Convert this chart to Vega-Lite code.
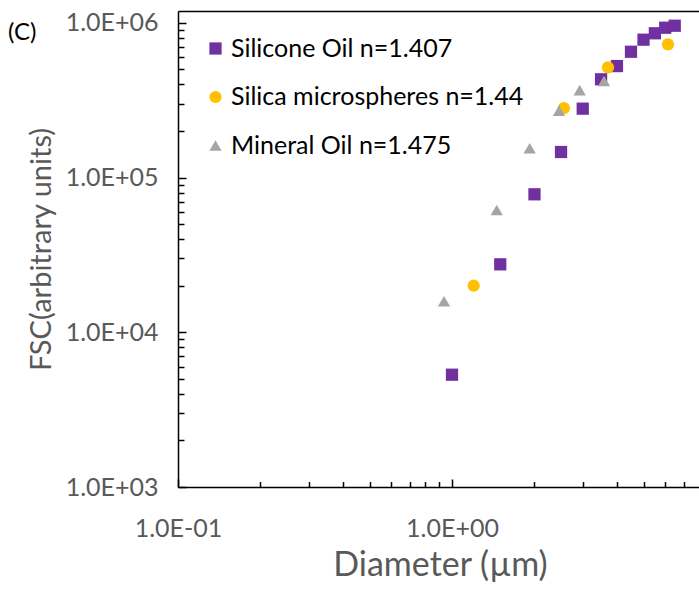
{
  "$schema": "https://vega.github.io/schema/vega-lite/v6.json",
  "width": 521,
  "height": 476,
  "autosize": {"type": "none"},
  "padding": {"left": 178, "top": 11, "right": 0, "bottom": 104},
  "background": "white",
  "title": {"text": "(C)", "anchor": "start", "orient": "top", "frame": "group", "dx": -170, "dy": 46, "offset": 0, "baseline": "middle", "fontSize": 24, "fontWeight": "normal", "color": "#000000", "font": "Lato"},
  "config": {
    "view": {"stroke": null},
    "font": "Lato",
    "axis": {
      "grid": false,
      "domainColor": "#000000",
      "domainWidth": 1.5,
      "tickColor": "#000000",
      "tickWidth": 1.5,
      "labelColor": "#595959",
      "labelFont": "Lato",
      "labelFontSize": 25,
      "titleColor": "#595959",
      "titleFont": "Lato",
      "titleFontWeight": "normal"
    },
    "legend": {
      "orient": "none",
      "legendX": 25,
      "legendY": 25,
      "padding": 0,
      "labelFont": "Lato",
      "labelFontSize": 25,
      "labelColor": "#000000",
      "labelLimit": 0,
      "symbolSize": 150,
      "symbolStrokeWidth": 0,
      "rowPadding": 22.5,
      "labelOffset": 3
    }
  },
  "data": {
    "values": [
      {"series": "Silicone Oil n=1.407", "d": 1.0, "fsc": 5320},
      {"series": "Silicone Oil n=1.407", "d": 1.5, "fsc": 27500},
      {"series": "Silicone Oil n=1.407", "d": 2.0, "fsc": 78000},
      {"series": "Silicone Oil n=1.407", "d": 2.5, "fsc": 146400},
      {"series": "Silicone Oil n=1.407", "d": 3.0, "fsc": 279000},
      {"series": "Silicone Oil n=1.407", "d": 3.5, "fsc": 432000},
      {"series": "Silicone Oil n=1.407", "d": 4.0, "fsc": 526000},
      {"series": "Silicone Oil n=1.407", "d": 4.5, "fsc": 651000},
      {"series": "Silicone Oil n=1.407", "d": 5.0, "fsc": 779000},
      {"series": "Silicone Oil n=1.407", "d": 5.5, "fsc": 857000},
      {"series": "Silicone Oil n=1.407", "d": 6.0, "fsc": 931000},
      {"series": "Silicone Oil n=1.407", "d": 6.5, "fsc": 959000},
      {"series": "Silica microspheres n=1.44", "d": 1.2, "fsc": 20000},
      {"series": "Silica microspheres n=1.44", "d": 2.56, "fsc": 281000},
      {"series": "Silica microspheres n=1.44", "d": 3.71, "fsc": 516000},
      {"series": "Silica microspheres n=1.44", "d": 6.14, "fsc": 727000},
      {"series": "Mineral Oil n=1.475", "d": 0.935, "fsc": 15860},
      {"series": "Mineral Oil n=1.475", "d": 1.456, "fsc": 61700},
      {"series": "Mineral Oil n=1.475", "d": 1.921, "fsc": 154700},
      {"series": "Mineral Oil n=1.475", "d": 2.458, "fsc": 271000},
      {"series": "Mineral Oil n=1.475", "d": 2.924, "fsc": 368000},
      {"series": "Mineral Oil n=1.475", "d": 3.587, "fsc": 421000}
    ]
  },
  "layer": [
    {
      "mark": {"type": "point", "filled": true, "size": 150, "opacity": 1, "strokeWidth": 0},
      "encoding": {
        "x": {
          "field": "d", "type": "quantitative",
          "scale": {"type": "log", "domain": [0.1, 7.97], "nice": false, "zero": false},
          "axis": {
            "orient": "bottom",
            "values": [0.1, 1],
            "labelExpr": "datum.value < 0.5 ? '1.0E-01' : '1.0E+00'",
            "tickSize": -8,
            "labelPadding": 37,
            "labelFlush": false,
            "title": "Diameter (µm)",
            "titleFontSize": 34,
            "titleX": 262,
            "titleY": 78,
            "titleBaseline": "middle"
          }
        },
        "y": {
          "field": "fsc", "type": "quantitative",
          "scale": {"type": "log", "domain": [1000, 1194000], "nice": false, "zero": false},
          "axis": {
            "orient": "left",
            "values": [1000, 10000, 100000, 1000000],
            "labelExpr": "datum.value < 5000 ? '1.0E+03' : datum.value < 50000 ? '1.0E+04' : datum.value < 500000 ? '1.0E+05' : '1.0E+06'",
            "tickSize": -8,
            "labelPadding": 28,
            "labelFlush": false,
            "labelBaseline": "middle",
            "title": "FSC(arbitrary units)",
            "titleFontSize": 29,
            "titleX": -137,
            "titleY": 238,
            "titleAngle": -90,
            "titleAlign": "center",
            "titleBaseline": "middle"
          }
        },
        "color": {
          "field": "series", "type": "nominal",
          "scale": {"domain": ["Silicone Oil n=1.407", "Silica microspheres n=1.44", "Mineral Oil n=1.475"], "range": ["#7030A0", "#FFC000", "#A5A5A5"]},
          "legend": {"title": null}
        },
        "shape": {
          "field": "series", "type": "nominal",
          "scale": {"domain": ["Silicone Oil n=1.407", "Silica microspheres n=1.44", "Mineral Oil n=1.475"], "range": ["square", "circle", "triangle-up"]},
          "legend": {"title": null}
        }
      }
    },
    {
      "mark": {"type": "point", "opacity": 0},
      "encoding": {
        "x": {
          "field": "d", "type": "quantitative",
          "axis": {"orient": "bottom", "values": [0.2, 0.3, 0.4, 0.5, 0.6, 0.7, 0.8, 0.9, 2, 3, 4, 5, 6, 7], "tickSize": -5.5, "labels": false, "domain": false, "title": null}
        },
        "y": {
          "field": "fsc", "type": "quantitative",
          "axis": {"orient": "left", "values": [2000, 3000, 4000, 5000, 6000, 7000, 8000, 9000, 20000, 30000, 40000, 50000, 60000, 70000, 80000, 90000, 200000, 300000, 400000, 500000, 600000, 700000, 800000, 900000], "tickSize": -6, "labels": false, "domain": false, "title": null}
        }
      }
    },
    {
      "mark": {"type": "point", "opacity": 0},
      "encoding": {
        "x": {
          "field": "d", "type": "quantitative",
          "axis": {"orient": "top", "ticks": false, "labels": false, "domain": true, "title": null}
        },
        "y": {"field": "fsc", "type": "quantitative", "axis": null}
      }
    }
  ],
  "resolve": {"axis": {"x": "independent", "y": "independent"}}
}
